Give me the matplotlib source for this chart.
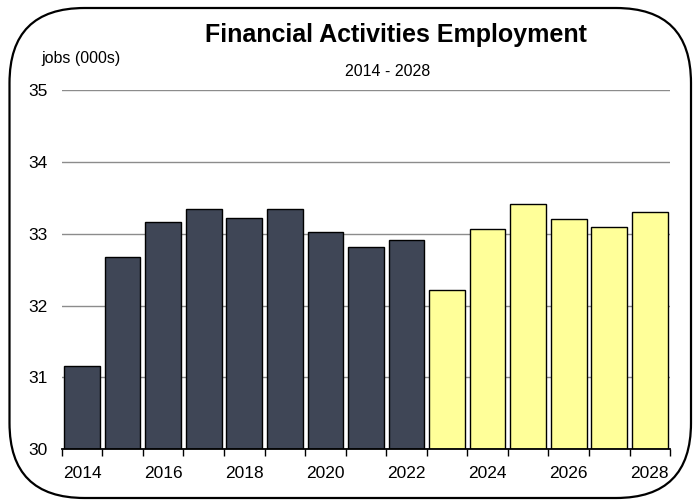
import matplotlib
matplotlib.use("Agg")
import matplotlib.pyplot as plt
from matplotlib.patches import FancyBboxPatch
from matplotlib.ticker import FixedLocator, NullFormatter

years = list(range(2014, 2029))
jobs = [31.16, 32.68, 33.16, 33.34, 33.22, 33.35, 33.03, 32.81, 32.91,
        32.21, 33.07, 33.42, 33.21, 33.09, 33.30]
first_projected = 2023
actual_color = "#3f4656"
projected_color = "#ffff99"

plt.rcParams["font.family"] = ["Liberation Sans Narrow", "Liberation Sans", "DejaVu Sans"]

fig = plt.figure(figsize=(6.94, 5.0), dpi=100)
ax = fig.add_axes([0.089, 0.1014, 0.8765, 0.7186])

xs = list(range(len(years)))
colors = [actual_color if y < first_projected else projected_color for y in years]
ax.bar(xs, [v - 30 for v in jobs], bottom=30, width=0.88, color=colors,
       edgecolor="black", linewidth=1.0, zorder=3)

ax.set_ylim(30, 35)
ax.set_xlim(-0.5, len(years) - 0.5)
ax.set_yticks(range(30, 36))
ax.yaxis.grid(True, color="#8c8c8c", linewidth=1.0, zorder=0)
ax.tick_params(axis="y", length=0, pad=10, labelsize=12.5)

major = [i for i, y in enumerate(years) if y % 2 == 0]
ax.set_xticks(major)
ax.set_xticklabels([str(years[i]) for i in major])
ax.xaxis.set_minor_locator(FixedLocator([i - 0.5 for i in range(len(years) + 1)]))
ax.xaxis.set_minor_formatter(NullFormatter())
ax.tick_params(axis="x", which="major", length=0, pad=12, labelsize=12.5)
ax.tick_params(axis="x", which="minor", length=5, width=1.0, direction="out")

for side in ("top", "right", "left"):
    ax.spines[side].set_visible(False)
ax.spines["bottom"].set_linewidth(1.3)
ax.spines["bottom"].set_zorder(4)

fig.text(0.571, 0.930, "Financial Activities Employment", ha="center", va="center",
         fontsize=18, fontweight="bold")
fig.text(0.559, 0.858, "2014 - 2028", ha="center", va="center", fontsize=11.5)
fig.text(0.116, 0.884, "jobs (000s)", ha="center", va="center", fontsize=11.5)

# rounded outer frame, drawn in inch coordinates so the corners stay circular
frame = FancyBboxPatch((0.095, 0.02), 6.815, 4.90,
                       boxstyle="round,pad=0,rounding_size=0.75",
                       transform=fig.dpi_scale_trans, facecolor="none",
                       edgecolor="black", linewidth=1.6, clip_on=False)
fig.patches.append(frame)

fig.savefig("out.png", dpi=100)
